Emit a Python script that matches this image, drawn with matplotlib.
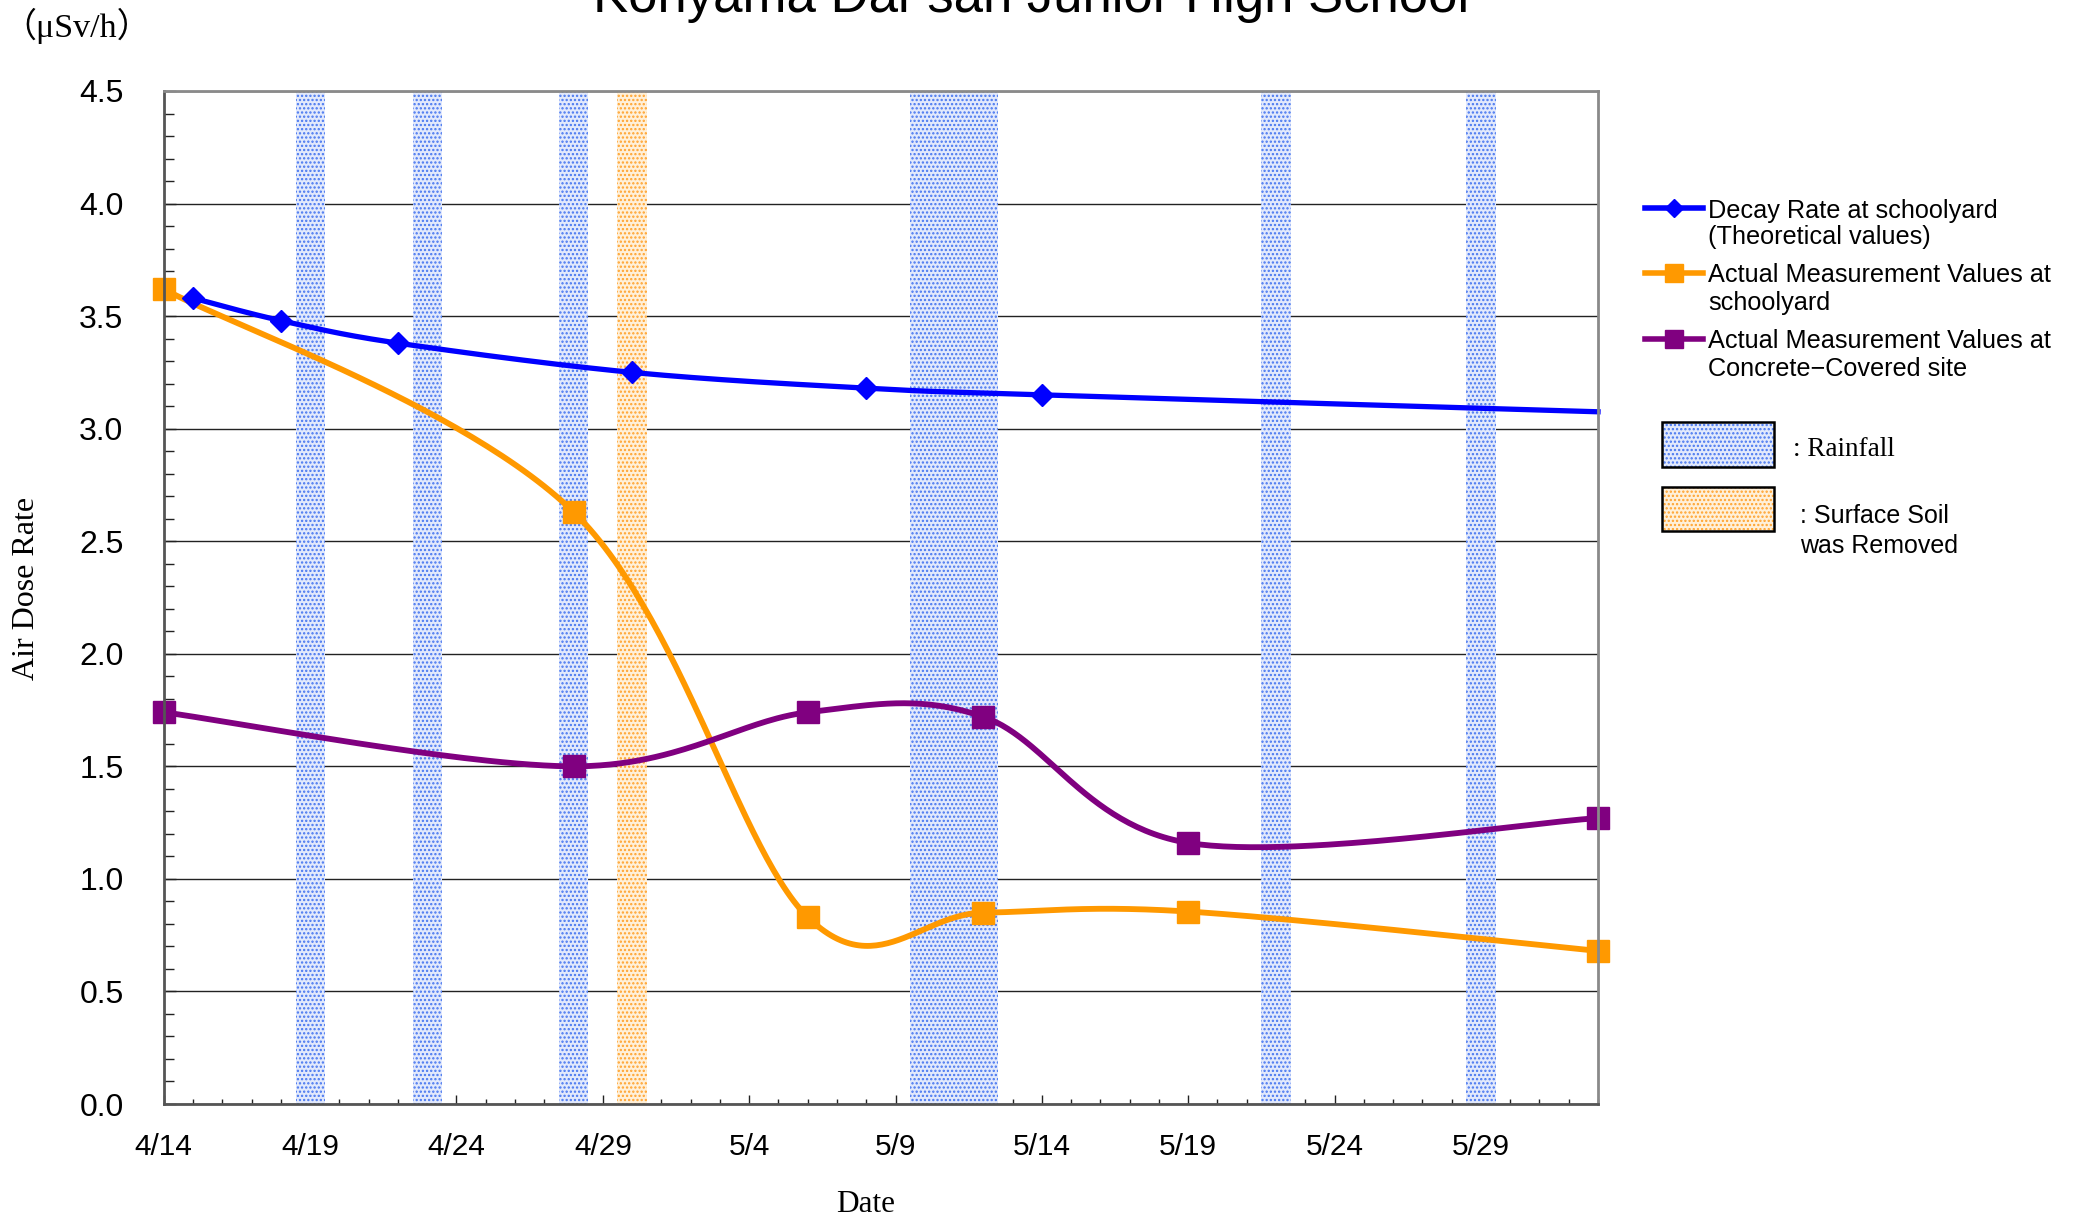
import numpy as np
import matplotlib
matplotlib.use('Agg')
import matplotlib.pyplot as plt
import matplotlib.dates as mdates
from matplotlib.patches import Rectangle
from matplotlib.lines import Line2D
import pandas as pd

plt.rcParams['hatch.linewidth'] = 1.1

# ---------------- data ----------------
decay_dates = ['2011-04-15', '2011-04-18', '2011-04-22', '2011-04-30',
               '2011-05-08', '2011-05-14', '2011-06-02']
decay_vals = [3.58, 3.48, 3.38, 3.25, 3.18, 3.15, 3.075]

meas_dates = ['2011-04-14', '2011-04-28', '2011-05-06', '2011-05-12',
              '2011-05-19', '2011-06-02']
schoolyard_vals = [3.62, 2.63, 0.83, 0.85, 0.855, 0.68]
concrete_vals = [1.74, 1.50, 1.74, 1.72, 1.16, 1.27]

rain_days = ['2011-04-19', '2011-04-23', '2011-04-28', '2011-05-10',
             '2011-05-11', '2011-05-12', '2011-05-22', '2011-05-29']
soil_removed_days = ['2011-04-30']

x_start, x_end = '2011-04-14', '2011-06-02'
tick_dates = ['2011-04-14', '2011-04-19', '2011-04-24', '2011-04-29', '2011-05-04',
              '2011-05-09', '2011-05-14', '2011-05-19', '2011-05-24', '2011-05-29']
tick_labels = ['4/14', '4/19', '4/24', '4/29', '5/4', '5/9', '5/14', '5/19', '5/24', '5/29']
y_ticks = [0.0, 0.5, 1.0, 1.5, 2.0, 2.5, 3.0, 3.5, 4.0, 4.5]
y_tick_labels = ['0.0', '0.5', '1.0', '1.5', '2.0', '2.5', '3.0', '3.5', '4.0', '4.5']

series_labels = [['Decay Rate at schoolyard', '(Theoretical values)'],
                 ['Actual Measurement Values at', 'schoolyard'],
                 ['Actual Measurement Values at', 'Concrete\u2212Covered site']]
title = 'Koriyama Dai-san Junior High School'

BLUE = '#0000ff'
ORANGE = '#ff9900'
PURPLE = '#800080'
RAIN_FACE, RAIN_DOT = '#e2e9fc', '#4676f0'
SOIL_FACE, SOIL_DOT = '#fff0d9', '#ffa22c'

SANS = ['Liberation Sans', 'DejaVu Sans']
SERIF = ['Liberation Serif', 'Noto Sans CJK JP', 'DejaVu Serif']


def dnum(lst):
    return mdates.date2num(pd.to_datetime(lst).to_pydatetime())


W, H = 2078, 1222
fig = plt.figure(figsize=(W / 100, H / 100), dpi=100)
fig.patch.set_facecolor('white')


def fx(x):
    return x / W


def fy(y):
    return 1 - y / H


L, R, T, B = 163.8, 1598, 91, 1104
ax = fig.add_axes([fx(L), fy(B), (R - L) / W, (B - T) / H])
x0, x1 = dnum([x_start, x_end])
ax.set_xlim(x0, x1)
ax.set_ylim(0, 4.5)

# grid
ax.set_axisbelow(True)
ax.yaxis.grid(True, color='#222222', lw=1.0)
ax.xaxis.grid(False)

# bands
for d in dnum(rain_days):
    ax.axvspan(d - 0.5, d + 0.5, facecolor=RAIN_FACE, edgecolor=RAIN_DOT,
               hatch='....', lw=0, zorder=1)
for d in dnum(soil_removed_days):
    ax.axvspan(d - 0.5, d + 0.5, facecolor=SOIL_FACE, edgecolor=SOIL_DOT,
               hatch='....', lw=0, zorder=1)


def smooth_curve(xs, ys, n=60):
    """Excel-like smoothed line (Catmull-Rom Bezier) in display space."""
    pts = ax.transData.transform(np.column_stack([xs, ys]))
    N = len(pts)
    out = []
    t = np.linspace(0, 1, n)[:, None]
    for i in range(N - 1):
        p0 = pts[i - 1] if i > 0 else pts[i]
        p1, p2 = pts[i], pts[i + 1]
        p3 = pts[i + 2] if i + 2 < N else pts[i + 1]
        c1 = p1 + (p2 - p0) / 6
        c2 = p2 - (p3 - p1) / 6
        seg = ((1 - t) ** 3) * p1 + 3 * ((1 - t) ** 2) * t * c1 + 3 * (1 - t) * t ** 2 * c2 + t ** 3 * p2
        out.append(seg if i == 0 else seg[1:])
    res = ax.transData.inverted().transform(np.vstack(out))
    return res[:, 0], res[:, 1]


xd = dnum(decay_dates)
xm = dnum(meas_dates)

sx, sy = smooth_curve(xd, decay_vals)
ax.plot(sx, sy, color=BLUE, lw=3.8, zorder=3, clip_on=False)
ax.plot(xd[:-1], decay_vals[:-1], ls='none', marker='D', ms=11.5, color=BLUE, zorder=4, clip_on=False)

sx, sy = smooth_curve(xm, schoolyard_vals)
ax.plot(sx, sy, color=ORANGE, lw=4.2, zorder=3, clip_on=False)
ax.plot(xm, schoolyard_vals, ls='none', marker='s', ms=16, color=ORANGE, zorder=4, clip_on=False)

sx, sy = smooth_curve(xm, concrete_vals)
ax.plot(sx, sy, color=PURPLE, lw=4.2, zorder=3, clip_on=False)
ax.plot(xm, concrete_vals, ls='none', marker='s', ms=16, color=PURPLE, zorder=4, clip_on=False)

# ticks
ax.set_xticks(dnum(tick_dates))
ax.set_xticklabels(tick_labels, fontsize=21.5, family=SANS)
ax.set_xticks(np.arange(x0, x1 + 0.5, 1), minor=True)
ax.set_yticks(y_ticks)
ax.set_yticklabels(y_tick_labels, fontsize=23, family=SANS)
ax.set_yticks(np.arange(0, 4.51, 0.1), minor=True)
ax.tick_params(axis='x', which='major', direction='in', length=6.5, width=1.0, pad=21, color='#222222')
ax.tick_params(axis='x', which='minor', direction='in', length=3.8, width=1.0, color='#222222')
ax.tick_params(axis='y', which='major', direction='in', length=8.5, width=1.0, pad=29, color='#222222')
ax.tick_params(axis='y', which='minor', direction='in', length=7, width=1.0, color='#222222')
for s in ax.spines.values():
    s.set_color('#8a8a8a')
    s.set_linewidth(2.0)
    s.set_zorder(5)
ax.spines['left'].set_color('#555555')
ax.spines['bottom'].set_color('#555555')

ax.set_ylabel('Air Dose Rate', fontsize=23, family=SERIF, va='center')
ax.yaxis.set_label_coords((27 - L) / (R - L), (B - 588) / (B - T))
ax.set_xlabel('Date', fontsize=22.5, family=SERIF, va='center')
ax.xaxis.set_label_coords((866 - L) / (R - L), (B - 1205) / (B - T))

# title and unit
fig.text(fx(1031), fy(12), title, ha='center', va='baseline', fontsize=38, family=SANS)
fig.text(fx(2), fy(26), '\uff08\u03bcSv/h\uff09', ha='left', va='center', fontsize=24.5, family=SERIF)

# legend (drawn manually to match layout)
leg_items = [(BLUE, 'D', 9.0, 208, [218, 244]),
             (ORANGE, 's', 12.5, 273, [282, 310]),
             (PURPLE, 's', 12.5, 339, [348, 376])]
for (col, mk, ms, ly, bls), labs in zip(leg_items, series_labels):
    fig.add_artist(Line2D([fx(1645), fx(1703)], [fy(ly), fy(ly)], transform=fig.transFigure,
                          color=col, lw=4.0))
    fig.add_artist(Line2D([fx(1674)], [fy(ly)], transform=fig.transFigure, color=col,
                          marker=mk, ms=ms, ls='none'))
    for bl, lab in zip(bls, labs):
        fig.text(fx(1708), fy(bl), lab, ha='left', va='baseline', fontsize=18.2, family=SANS)

for (top, bot, face, dot) in [(422, 467, RAIN_FACE, RAIN_DOT), (487, 531, SOIL_FACE, SOIL_DOT)]:
    fig.add_artist(Rectangle((fx(1662), fy(bot)), (1774 - 1662) / W, (bot - top) / H,
                             transform=fig.transFigure, facecolor=face, edgecolor=dot,
                             hatch='....', lw=0))
    fig.add_artist(Rectangle((fx(1662), fy(bot)), (1774 - 1662) / W, (bot - top) / H,
                             transform=fig.transFigure, facecolor='none', edgecolor='black',
                             lw=1.8))
fig.text(fx(1793), fy(456), ': Rainfall', ha='left', va='baseline', fontsize=19.5, family=SERIF)
fig.text(fx(1800), fy(523), ': Surface Soil', ha='left', va='baseline', fontsize=18, family=SANS)
fig.text(fx(1800), fy(553), 'was Removed', ha='left', va='baseline', fontsize=18, family=SANS)

fig.savefig('out.png', dpi=100, facecolor='white')
